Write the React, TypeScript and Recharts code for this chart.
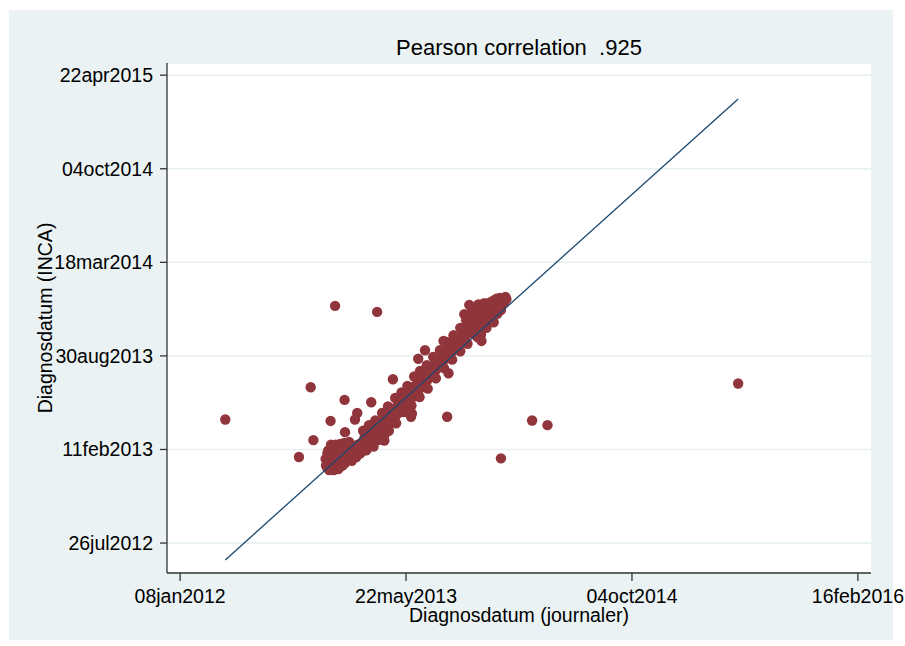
import React from 'react';
import { ScatterChart, Scatter, XAxis, YAxis, CartesianGrid } from 'recharts';

// dates are Stata day numbers (days since 01jan1960)
const xTicks = [19000, 19500, 20000, 20500];
const yTicks = [19200, 19400, 19600, 19800, 20000, 20200];

// journal date vs INCA date, main band along the diagonal
const matchedPoints: [number, number][] = [
  // lower clump
  [19325, 19362], [19328, 19368], [19330, 19375], [19332, 19360], [19335, 19380], [19338, 19366],
  [19340, 19372], [19342, 19385], [19345, 19362], [19347, 19377], [19350, 19368], [19352, 19390],
  [19355, 19374], [19357, 19365], [19360, 19382], [19362, 19395], [19365, 19371], [19367, 19388],
  [19370, 19378], [19372, 19400], [19375, 19385], [19378, 19392], [19380, 19376], [19383, 19404],
  [19385, 19390], [19388, 19398], [19390, 19384], [19393, 19410], [19396, 19400], [19399, 19392],
  [19328, 19398], [19332, 19390], [19336, 19402], [19340, 19395], [19330, 19384], [19345, 19400],
  [19350, 19405], [19327, 19373], [19322, 19380], [19326, 19392], [19334, 19410], [19338, 19386],
  [19344, 19410], [19348, 19394], [19354, 19412], [19358, 19400], [19363, 19414], [19368, 19404],
  [19374, 19416], [19323, 19366], [19330, 19356], [19340, 19356], [19350, 19358], [19360, 19366],
  // middle of the band
  [19402, 19415], [19405, 19398], [19408, 19425], [19410, 19410], [19413, 19432], [19415, 19405],
  [19418, 19420], [19420, 19440], [19423, 19412], [19425, 19430], [19428, 19418], [19430, 19445],
  [19433, 19428], [19436, 19438], [19438, 19420], [19441, 19452], [19444, 19436], [19446, 19460],
  [19449, 19444], [19452, 19430], [19455, 19458], [19458, 19448], [19460, 19470], [19463, 19455],
  [19466, 19475], [19469, 19462], [19472, 19482], [19475, 19468], [19478, 19490], [19481, 19476],
  [19484, 19495], [19487, 19482], [19490, 19500], [19493, 19488], [19496, 19510], [19499, 19495],
  [19502, 19516], [19505, 19502], [19508, 19522], [19511, 19508], [19514, 19530], [19517, 19515],
  [19520, 19536], [19523, 19520], [19526, 19540], [19529, 19528], [19532, 19548], [19535, 19534],
  [19538, 19556], [19541, 19540], [19544, 19560], [19547, 19548], [19550, 19566], [19553, 19555],
  [19556, 19574], [19559, 19560], [19562, 19580], [19565, 19568], [19568, 19590], [19571, 19575],
  [19574, 19596], [19577, 19584], [19580, 19600], [19583, 19590], [19586, 19608], [19589, 19596],
  [19592, 19614], [19595, 19600], [19598, 19620], [19601, 19608], [19604, 19626], [19607, 19615],
  [19610, 19632], [19613, 19620], [19616, 19640], [19619, 19628], [19622, 19646], [19625, 19634],
  [19628, 19652], [19631, 19640], [19634, 19660], [19637, 19648],
  [19405, 19440], [19418, 19452], [19432, 19462], [19447, 19478], [19460, 19492], [19476, 19510],
  [19490, 19522], [19503, 19536], [19518, 19556], [19531, 19568], [19546, 19580], [19560, 19598],
  [19575, 19612], [19590, 19630], [19605, 19644], [19620, 19660], [19633, 19676],
  [19412, 19398], [19428, 19406], [19444, 19424], [19462, 19440], [19478, 19456], [19495, 19480],
  [19512, 19494], [19530, 19512], [19548, 19530], [19566, 19552], [19584, 19574], [19602, 19592],
  [19620, 19610], [19636, 19626],
  // upper clump
  [19640, 19666], [19643, 19652], [19646, 19674], [19649, 19660], [19652, 19682], [19655, 19648],
  [19657, 19668], [19660, 19690], [19662, 19652], [19664, 19676], [19667, 19698], [19669, 19660],
  [19671, 19684], [19673, 19704], [19675, 19668], [19677, 19692], [19680, 19710], [19682, 19676],
  [19684, 19698], [19686, 19714], [19689, 19684], [19691, 19704], [19693, 19718], [19696, 19692],
  [19698, 19710], [19700, 19722], [19703, 19700], [19705, 19716], [19708, 19724], [19711, 19708],
  [19714, 19720], [19717, 19714], [19720, 19726], [19722, 19721],
  [19642, 19690], [19650, 19700], [19658, 19640], [19666, 19646], [19672, 19712], [19678, 19660],
  [19688, 19712], [19694, 19672], [19702, 19690], [19710, 19698], [19652, 19646], [19660, 19710],
  [19676, 19712],
];

// points away from the diagonal
const outlierPoints: [number, number][] = [
  [19100, 19464], [19263, 19384], [19295, 19420], [19289, 19533], [19343, 19707], [19436, 19694],
  [19333, 19461], [19364, 19506], [19423, 19501], [19365, 19437], [19392, 19478], [19387, 19464],
  [19471, 19550], [19452, 19419], [19513, 19477], [19511, 19470], [19591, 19470], [19594, 19563],
  [19710, 19381], [19779, 19462], [19813, 19452], [19667, 19632], [19583, 19632], [19542, 19612],
  [19527, 19594], [19640, 19709], [19629, 19689], [20235, 19541],
];

// fitted line, from min to max journal date
const fitLine: [number, number][] = [
  [19100, 19164],
  [20235, 20149],
];

const MONTHS = ['jan', 'feb', 'mar', 'apr', 'may', 'jun', 'jul', 'aug', 'sep', 'oct', 'nov', 'dec'];

function stataDate(d: number) {
  const dt = new Date(Date.UTC(1960, 0, 1) + d * 86400000);
  return String(dt.getUTCDate()).padStart(2, '0') + MONTHS[dt.getUTCMonth()] + dt.getUTCFullYear();
}

const toXY = (pts: [number, number][]) => pts.map(([x, y]) => ({ x, y }));

const MAROON = '#90353b';
const NAVY = '#1a476f';
const FONT = '"Liberation Sans", Arial, sans-serif';

const dot = (p: any) => <circle cx={p.cx} cy={p.cy} r={5.2} fill={MAROON} />;
const noDot = () => <g />;

export default function App() {
  const tickStyle = { fill: '#000', fontSize: 19.5, fontFamily: FONT };
  return (
    <div style={{ position: 'absolute', left: 0, top: 0, width: 905, height: 646, background: '#fff' }}>
      <div style={{ position: 'absolute', left: 9, top: 10, width: 884, height: 630, background: '#eaf2f3' }} />
      <div style={{ position: 'absolute', left: 0, top: 0 }}>
        <ScatterChart width={905} height={646} margin={{ top: 63, right: 34, bottom: 0, left: 0 }}>
          <CartesianGrid vertical={false} fill="#fff" stroke="#e6eff1" strokeWidth={1.5} />
          <XAxis
            type="number"
            dataKey="x"
            domain={[18971, 20529]}
            allowDataOverflow
            ticks={xTicks}
            interval={0}
            tickFormatter={stataDate}
            height={73}
            tickSize={8}
            tickMargin={8}
            tick={tickStyle}
            axisLine={{ stroke: '#333', strokeWidth: 1.3 }}
            tickLine={{ stroke: '#333', strokeWidth: 1.3 }}
          />
          <YAxis
            type="number"
            dataKey="y"
            domain={[19136, 20226]}
            allowDataOverflow
            ticks={yTicks}
            interval={0}
            tickFormatter={stataDate}
            width={167}
            tickSize={7}
            tickMargin={7}
            tick={tickStyle}
            axisLine={{ stroke: '#333', strokeWidth: 1.3 }}
            tickLine={{ stroke: '#333', strokeWidth: 1.3 }}
          />
          <Scatter data={toXY(matchedPoints)} shape={dot} isAnimationActive={false} />
          <Scatter data={toXY(outlierPoints)} shape={dot} isAnimationActive={false} />
          <Scatter
            data={toXY(fitLine)}
            line={{ stroke: NAVY, strokeWidth: 1.3 }}
            shape={noDot}
            isAnimationActive={false}
          />
        </ScatterChart>
      </div>
      <svg width={905} height={646} style={{ position: 'absolute', left: 0, top: 0, pointerEvents: 'none' }}>
        <text x={519} y={55} textAnchor="middle" fontSize={22} fontFamily={FONT} fill="#000" style={{ whiteSpace: 'pre' }}>
          {'Pearson correlation  .925'}
        </text>
        <text x={519} y={622} textAnchor="middle" fontSize={19.5} fontFamily={FONT} fill="#000">
          Diagnosdatum (journaler)
        </text>
        <text
          x={51.5}
          y={318}
          textAnchor="middle"
          fontSize={19.5}
          fontFamily={FONT}
          fill="#000"
          transform="rotate(-90 51.5 318)"
        >
          Diagnosdatum (INCA)
        </text>
      </svg>
    </div>
  );
}
